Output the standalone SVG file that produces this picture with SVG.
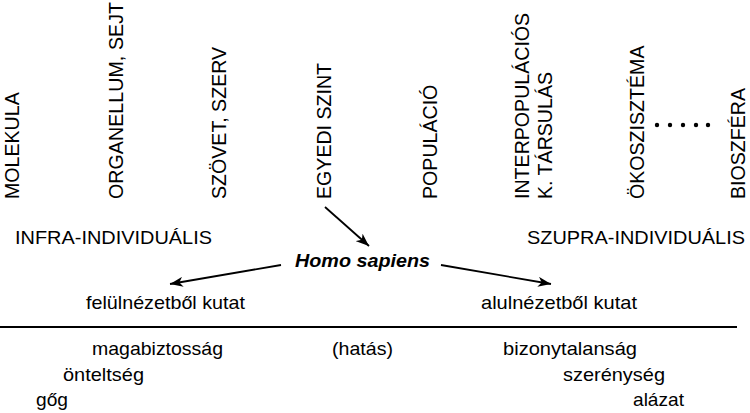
<svg xmlns="http://www.w3.org/2000/svg" width="750" height="413" viewBox="0 0 750 413">
<style>
text{font-family:"Liberation Sans",Arial,sans-serif;fill:#000;}
.v{font-size:19.6px;}
.h{font-size:19px;}
.hs{font-size:19px;font-weight:bold;font-style:italic;}
.con{stroke:#000;stroke-width:1.8;fill:none;}
</style>
<defs>
<marker id="ah" viewBox="0 0 13 10" refX="13" refY="5" markerUnits="userSpaceOnUse" markerWidth="13" markerHeight="10" orient="auto">
<path d="M0,0 L13,5 L0,10 L3.5,5 Z" fill="#000"/>
</marker>
</defs>
<rect width="750" height="413" fill="#fff"/>
<g id="molekula"><text class="v" transform="translate(18.5,199) rotate(-90)">MOLEKULA</text></g>
<g id="organellum"><text class="v" transform="translate(123,199) rotate(-90)" textLength="197">ORGANELLUM, SEJT</text></g>
<g id="szovet"><text class="v" transform="translate(226,199) rotate(-90)">SZÖVET, SZERV</text></g>
<g id="egyedi"><text class="v" transform="translate(331,199) rotate(-90)">EGYEDI SZINT</text></g>
<g id="populacio"><text class="v" transform="translate(437,199) rotate(-90)">POPULÁCIÓ</text></g>
<g id="interpop"><text class="v" transform="translate(529,199) rotate(-90)">INTERPOPULÁCIÓS</text><text class="v" transform="translate(552,199) rotate(-90)">K. TÁRSULÁS</text></g>
<g id="okoszisztema"><text class="v" transform="translate(644,199) rotate(-90)">ÖKOSZISZTÉMA</text></g>
<g id="dots" fill="#000"><circle cx="657" cy="125" r="2.2"/><circle cx="670" cy="125" r="2.2"/><circle cx="683" cy="125" r="2.2"/><circle cx="696" cy="125" r="2.2"/><circle cx="708" cy="125" r="2.2"/></g>
<g id="bioszfera"><text class="v" transform="translate(745,199) rotate(-90)">BIOSZFÉRA</text></g>
<g id="infra"><text class="h" x="15" y="243.5" textLength="197" lengthAdjust="spacingAndGlyphs">INFRA-INDIVIDUÁLIS</text></g>
<g id="szupra"><text class="h" x="527" y="243.5" textLength="218" lengthAdjust="spacingAndGlyphs">SZUPRA-INDIVIDUÁLIS</text></g>
<g id="homo"><text class="hs" x="295" y="266.5" textLength="135" lengthAdjust="spacingAndGlyphs">Homo sapiens</text></g>
<g id="felul"><text class="h" x="86" y="309" textLength="159" lengthAdjust="spacingAndGlyphs">felülnézetből kutat</text></g>
<g id="alul"><text class="h" x="481" y="309" textLength="156" lengthAdjust="spacingAndGlyphs">alulnézetből kutat</text></g>
<g id="divider"><line x1="0" y1="327" x2="737" y2="327" stroke="#000" stroke-width="2"/></g>
<g id="magabiztossag"><text class="h" x="92" y="355" textLength="131" lengthAdjust="spacingAndGlyphs">magabiztosság</text></g>
<g id="hatas"><text class="h" x="332" y="355" textLength="61" lengthAdjust="spacingAndGlyphs">(hatás)</text></g>
<g id="bizonytalansag"><text class="h" x="503" y="355" textLength="134" lengthAdjust="spacingAndGlyphs">bizonytalanság</text></g>
<g id="onteltseg"><text class="h" x="63" y="381" textLength="81" lengthAdjust="spacingAndGlyphs">önteltség</text></g>
<g id="szerenyseg"><text class="h" x="563" y="381" textLength="102" lengthAdjust="spacingAndGlyphs">szerénység</text></g>
<g id="gog"><text class="h" x="36" y="406" textLength="32" lengthAdjust="spacingAndGlyphs">gőg</text></g>
<g id="alazat"><text class="h" x="633" y="406" textLength="51" lengthAdjust="spacingAndGlyphs">alázat</text></g>
<g id="connectors">
<line class="con" x1="325" y1="207" x2="369" y2="246" marker-end="url(#ah)"/>
<line class="con" x1="281" y1="265" x2="170" y2="284" marker-end="url(#ah)"/>
<line class="con" x1="441" y1="265" x2="551" y2="284" marker-end="url(#ah)"/>
</g>
</svg>
